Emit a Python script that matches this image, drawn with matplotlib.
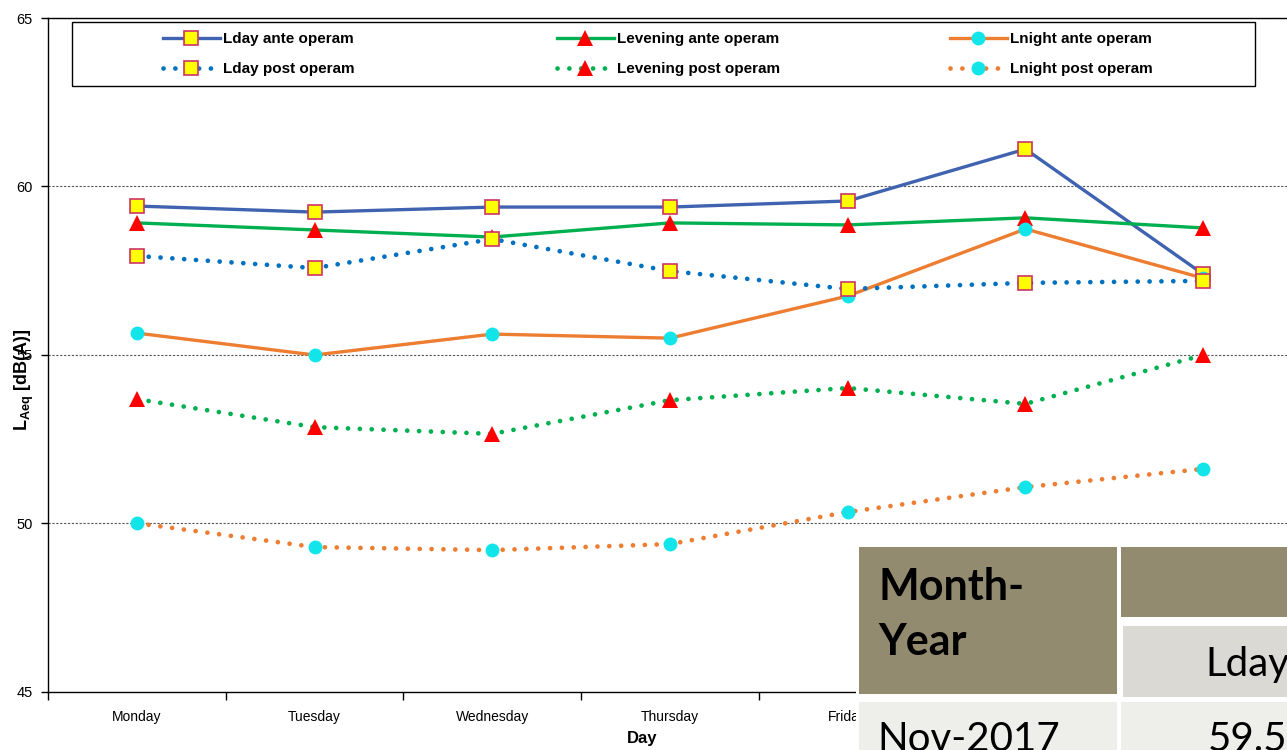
import matplotlib
matplotlib.use("Agg")
import matplotlib.pyplot as plt
import numpy as np
from matplotlib.patches import Rectangle

W, H = 1287, 750
DPI = 100

# Data
days = ["Monday", "Tuesday", "Wednesday", "Thursday", "Friday", "Saturday", "Sunday"]
lday_ante = [59.42, 59.24, 59.39, 59.39, 59.57, 61.11, 57.40]
levening_ante = [58.92, 58.71, 58.50, 58.92, 58.86, 59.07, 58.77]
lnight_ante = [55.65, 55.00, 55.62, 55.50, 56.75, 58.74, 57.28]
lday_post = [57.94, 57.58, 58.44, 57.49, 56.96, 57.14, 57.20]
levening_post = [53.69, 52.86, 52.66, 53.66, 54.02, 53.55, 55.00]
lnight_post = [50.01, 49.30, 49.21, 49.39, 50.34, 51.08, 51.62]

yticks = [45, 50, 55, 60, 65]

# Overlapping table fragment (cropped in the reference)
table_header = ["Month-\nYear", "Lday"]
table_row = ["Nov-2017", "59.5"]

NARROW = ["Liberation Sans Narrow", "Liberation Sans", "DejaVu Sans"]
ARIAL = ["Liberation Sans", "DejaVu Sans"]
CALIBRI = ["Lato", "Open Sans", "DejaVu Sans"]

plt.rcParams["font.family"] = ARIAL
plt.rcParams["mathtext.fontset"] = "custom"
plt.rcParams["mathtext.bf"] = "Liberation Sans:bold"
plt.rcParams["mathtext.rm"] = "Liberation Sans"


def fx(x):
    return x / W


def fy(y):
    return 1 - y / H


fig = plt.figure(figsize=(W / DPI, H / DPI), dpi=DPI)
ax = fig.add_axes([fx(48), fy(692), (1292 - 48) / W, (692 - 18) / H])

x = np.arange(len(days))

dot = (0, (0.01, 2.5))
square = dict(marker="s", markersize=10, markerfacecolor="#FFFF00",
              markeredgecolor="#CC3366", markeredgewidth=1.2)
tri = dict(marker="^", markersize=11, markerfacecolor="#FF0000",
           markeredgecolor="#FF0000", markeredgewidth=0)
circ = dict(marker="o", markersize=10, markerfacecolor="#11E5EA",
            markeredgecolor="#11E5EA", markeredgewidth=0)

series = [
    ("Lday ante operam", lday_ante, "#3F63B0", "-", 2.4, square),
    ("Levening ante operam", levening_ante, "#00B050", "-", 2.4, tri),
    ("Lnight ante operam", lnight_ante, "#ED7D31", "-", 2.4, circ),
    ("Lday post operam", lday_post, "#0070C0", dot, 3.4, square),
    ("Levening post operam", levening_post, "#00B050", dot, 3.4, tri),
    ("Lnight post operam", lnight_post, "#ED7D31", dot, 3.4, circ),
]

handles = []
for label, vals, color, ls, lw, mk in series:
    (h,) = ax.plot(x, vals, color=color, linestyle=ls, linewidth=lw,
                   dash_capstyle="round", label=label, zorder=3, **mk)
    handles.append(h)

ax.set_xlim(-0.5, len(days) - 0.5)
ax.set_ylim(45, 65)
ax.set_yticks(yticks)
ax.tick_params(axis="y", direction="out", length=5, width=1, pad=6, labelsize=10.5)

ax.set_xticks(np.arange(-0.5, len(days), 1))
ax.set_xticklabels([])
ax.set_xticks(x, minor=True)
ax.set_xticklabels(days, minor=True, fontsize=10)
ax.tick_params(axis="x", which="major", direction="out", length=6, width=1)
ax.tick_params(axis="x", which="minor", length=0, pad=13)

ax.grid(True, axis="y", linestyle=(0, (2, 1.5)), color="#555555", linewidth=0.8)
for s in ["left", "bottom", "top"]:
    ax.spines[s].set_color("black")
    ax.spines[s].set_linewidth(1)
ax.spines["right"].set_visible(False)

ax.set_xlabel("Day", fontsize=12, fontweight="bold", family=NARROW)
ax.xaxis.set_label_coords((642 - 48) / 1244, (692 - 731) / 674)
fig.text(fx(24), fy(380), r"$\mathbf{L_{Aeq}}$ [dB(A)]", rotation=90,
         fontsize=13, fontweight="bold", ha="center", va="center")

# Legend: frame plus three two-row columns
fig.add_artist(Rectangle((fx(72), fy(86)), (1255 - 72) / W, (86 - 22) / H,
                         transform=fig.transFigure, facecolor="white",
                         edgecolor="black", linewidth=1, zorder=5))
for col, hx in enumerate([163, 557, 950]):
    pair = [handles[col], handles[col + 3]]
    leg = fig.legend(pair, [h.get_label() for h in pair], loc="upper left",
                     bbox_to_anchor=(fx(hx), fy(32)), frameon=False,
                     borderpad=0, borderaxespad=0, handlelength=3.7,
                     handletextpad=0.25, labelspacing=1.08, numpoints=1,
                     prop={"family": NARROW, "weight": "bold", "size": 11})
    leg.set_zorder(6)

# Table fragment overlapping the plot
fig.add_artist(Rectangle((fx(856), fy(750)), (W - 856) / W, (750 - 543) / H,
                         transform=fig.transFigure, facecolor="white",
                         edgecolor="none", zorder=10))
cells = [
    (859, 547, 1117, 694, "#938B70"),
    (1121, 547, 1287, 617, "#938B70"),
    (1123, 626, 1287, 697, "#DAD9D4"),
    (859, 702, 1117, 750, "#EEEEEA"),
    (1121, 702, 1287, 750, "#EEEEEA"),
]
for x0, y0, x1, y1, c in cells:
    fig.add_artist(Rectangle((fx(x0), fy(y1)), (x1 - x0) / W, (y1 - y0) / H,
                             transform=fig.transFigure, facecolor=c,
                             edgecolor="none", zorder=11))

head_lines = table_header[0].split("\n")
fig.text(fx(878), fy(600), head_lines[0], fontsize=31, fontweight="bold",
         family=CALIBRI, va="baseline", ha="left", zorder=12)
fig.text(fx(878), fy(655), head_lines[1], fontsize=31, fontweight="bold",
         family=CALIBRI, va="baseline", ha="left", zorder=12)
fig.text(fx(1205), fy(676), table_header[1], fontsize=29,
         family=CALIBRI, va="baseline", ha="left", zorder=12)
fig.text(fx(877), fy(751), table_row[0], fontsize=29,
         family=CALIBRI, va="baseline", ha="left", zorder=12)
fig.text(fx(1208), fy(751), table_row[1], fontsize=29,
         family=CALIBRI, va="baseline", ha="left", zorder=12)

fig.savefig("out.png", dpi=DPI)
